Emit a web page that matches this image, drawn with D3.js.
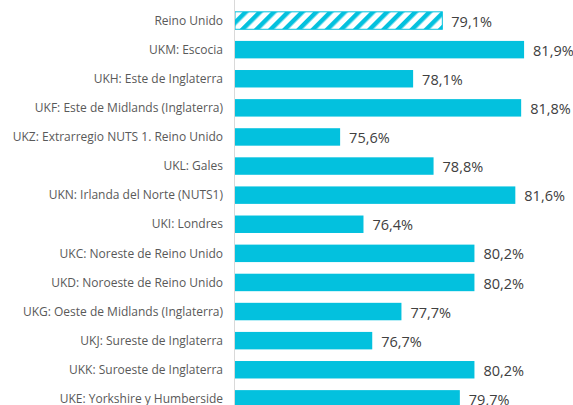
<!DOCTYPE html>
<html>
<head>
<meta charset="utf-8">
<script src="https://cdn.jsdelivr.net/npm/d3@7"></script>
<style>
  html, body { margin: 0; padding: 0; background: #fff; }
  svg { display: block; font-family: "Open Sans", sans-serif; }
</style>
</head>
<body>
<div id="chart"></div>
<script>
// categories and values
var regions = [
  "Reino Unido",
  "UKM: Escocia",
  "UKH: Este de Inglaterra",
  "UKF: Este de Midlands (Inglaterra)",
  "UKZ: Extrarregio NUTS 1. Reino Unido",
  "UKL: Gales",
  "UKN: Irlanda del Norte (NUTS1)",
  "UKI: Londres",
  "UKC: Noreste de Reino Unido",
  "UKD: Noroeste de Reino Unido",
  "UKG: Oeste de Midlands (Inglaterra)",
  "UKJ: Sureste de Inglaterra",
  "UKK: Suroeste de Inglaterra",
  "UKE: Yorkshire y Humberside"
];
var values = [79.1, 81.9, 78.1, 81.8, 75.6, 78.8, 81.6, 76.4, 80.2, 80.2, 77.7, 76.7, 80.2, 79.7];
var xDomain = [72, 82];

var width = 573, height = 405;
var left = 235, right = 527;
var col = "#03C1DE";

var data = regions.map(function(r, i) { return {name: r, value: values[i]}; });

var svg = d3.select("#chart").append("svg")
    .attr("width", width).attr("height", height);

// hatch pattern for the national total
var defs = svg.append("defs");
defs.append("pattern")
    .attr("id", "hatch")
    .attr("patternUnits", "userSpaceOnUse")
    .attr("width", 10).attr("height", 10)
    .attr("patternTransform", "rotate(45)")
  .append("rect")
    .attr("width", 4.5).attr("height", 10)
    .attr("fill", col);

var x = d3.scaleLinear().domain(xDomain).range([left, right]);
var y = d3.scaleBand()
    .domain(regions)
    .range([6, 6 + 14 * 29.1])
    .paddingInner(0.4)
    .paddingOuter(0.2);

var fmt = function(v) { return d3.format(".1f")(v).replace(".", ",") + "%"; };

// bars
svg.append("g").selectAll("rect")
    .data(data)
    .enter().append("rect")
    .attr("x", x(xDomain[0]))
    .attr("y", function(d) { return y(d.name); })
    .attr("width", function(d) { return x(d.value) - x(xDomain[0]); })
    .attr("height", y.bandwidth())
    .attr("fill", function(d, i) { return i == 0 ? "url(#hatch)" : col; })
    .attr("stroke", function(d, i) { return i == 0 ? col : "none"; })
    .attr("stroke-width", 1);

// axis line
svg.append("line")
    .attr("x1", left - 0.5).attr("x2", left - 0.5)
    .attr("y1", 0).attr("y2", height)
    .attr("stroke", "#d9d9d9").attr("stroke-width", 1);

// category labels
svg.append("g").selectAll("text")
    .data(data)
    .enter().append("text")
    .attr("x", left - 12)
    .attr("y", function(d) { return y(d.name) + y.bandwidth() / 2; })
    .attr("dy", "0.35em")
    .attr("text-anchor", "end")
    .attr("fill", "#595959")
    .style("font-size", "12px")
    .text(function(d) { return d.name; });

// value labels
svg.append("g").selectAll("text")
    .data(data)
    .enter().append("text")
    .attr("x", function(d) { return x(d.value) + 9; })
    .attr("y", function(d) { return y(d.name) + y.bandwidth() / 2 + 1; })
    .attr("dy", "0.35em")
    .attr("fill", "#404040")
    .style("font-size", "14.5px")
    .text(function(d) { return fmt(d.value); });
</script>
</body>
</html>
